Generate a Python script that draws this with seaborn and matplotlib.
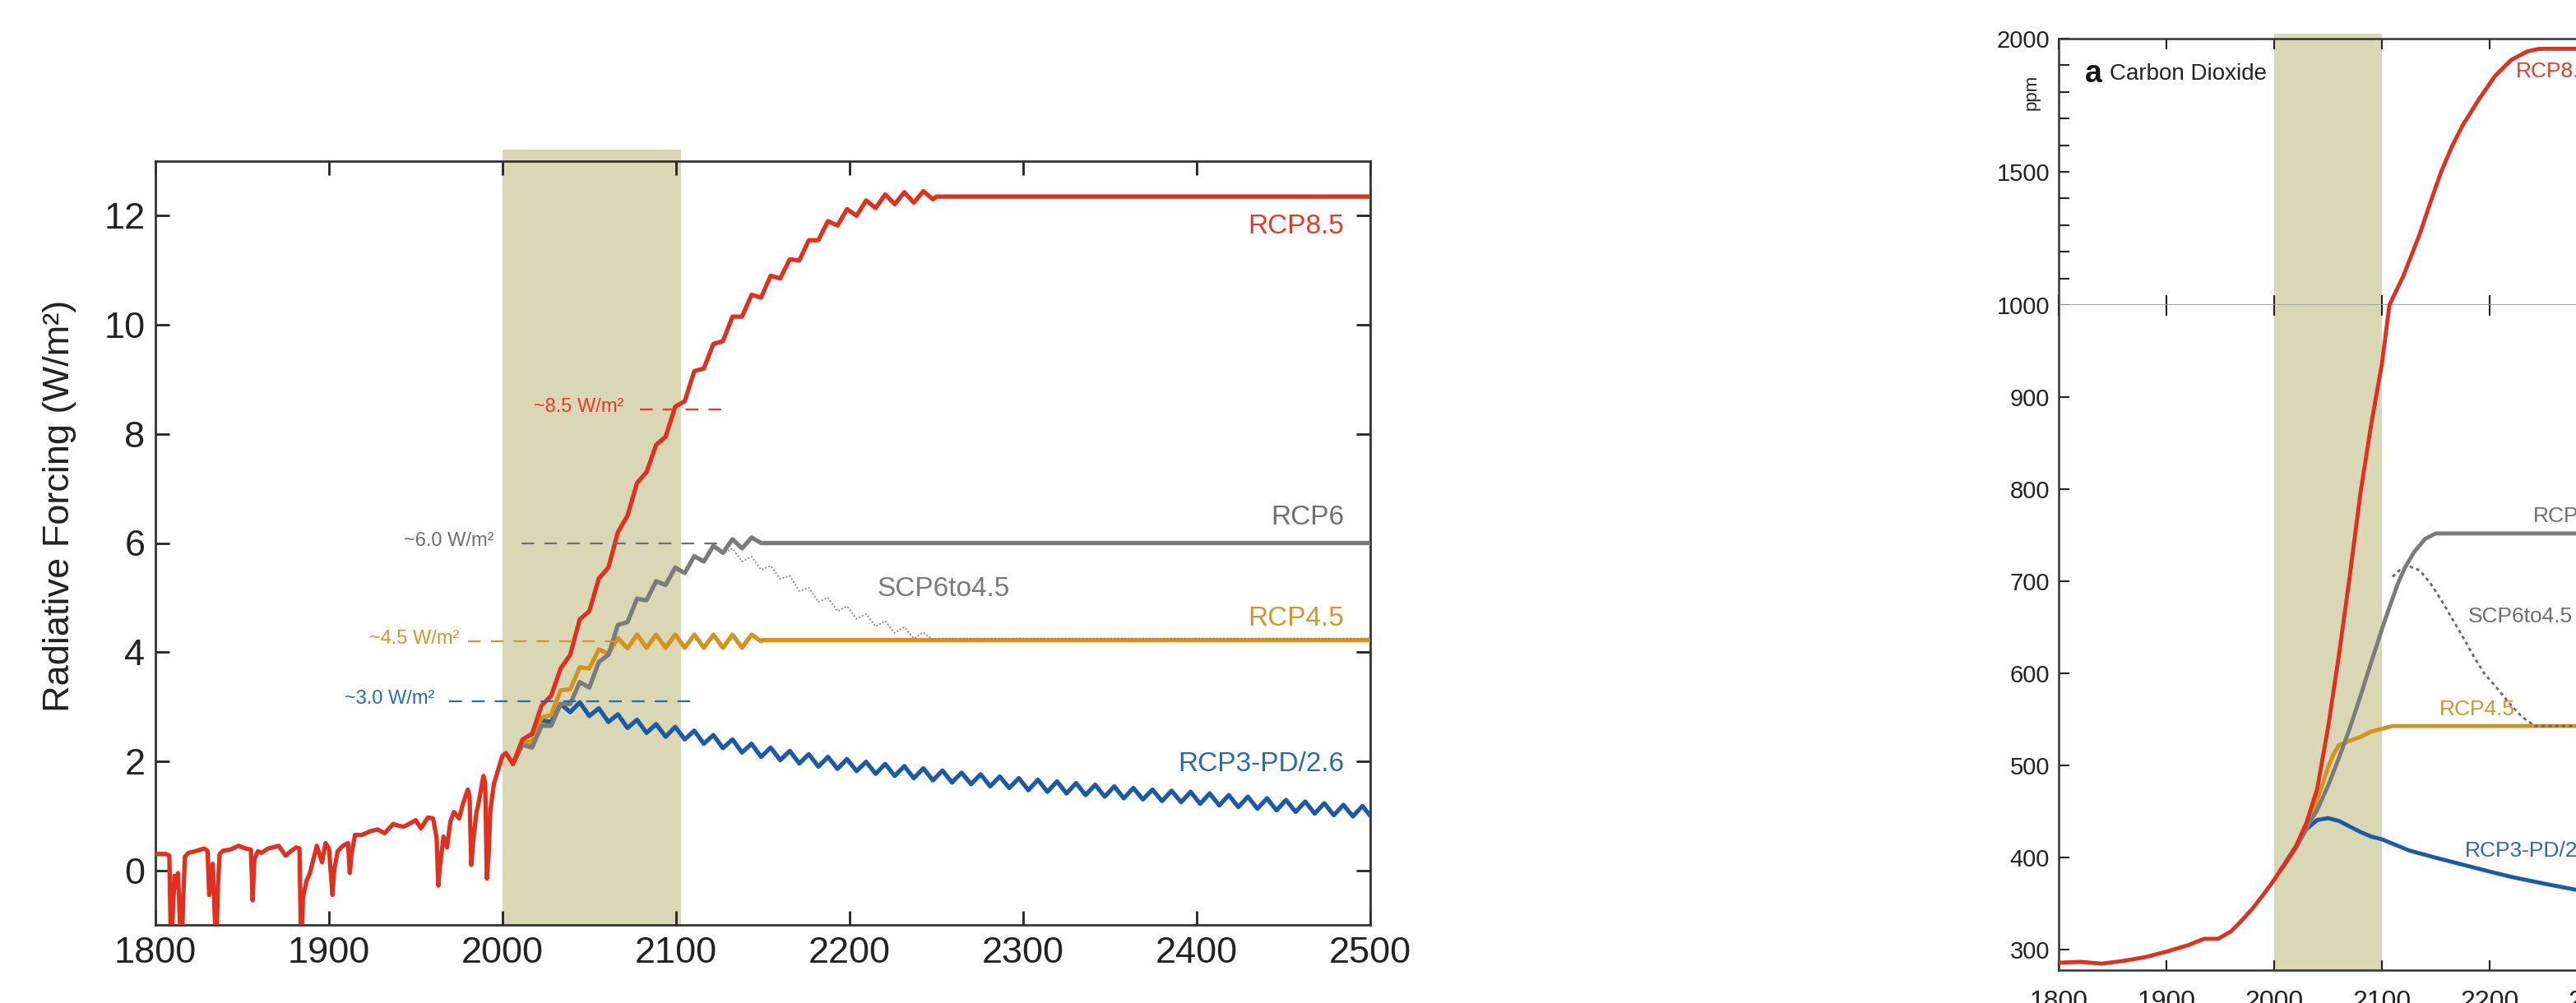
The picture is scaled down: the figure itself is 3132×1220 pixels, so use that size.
import numpy as np
import matplotlib
matplotlib.use("Agg")
import matplotlib.pyplot as plt
import seaborn as sns

sns.set_style("ticks")
plt.rcParams['font.family'] = ['Liberation Sans', 'DejaVu Sans']

# ---------------- left panel: radiative forcing (W/m2) ----------------
# historical forcing with the volcanic dips
hist_years = [1800, 1806, 1808, 1809, 1811, 1812, 1813, 1815, 1816, 1817,
              1819, 1823, 1828, 1830, 1831, 1832, 1833, 1835, 1836, 1837,
              1839, 1843, 1848, 1852, 1855, 1856, 1857, 1859, 1861, 1865,
              1871, 1875, 1878, 1881, 1883, 1884, 1885, 1887, 1889, 1891,
              1893, 1895, 1896, 1898, 1900, 1902, 1903, 1905, 1908, 1911,
              1912, 1913, 1915, 1919, 1924, 1928, 1932, 1937, 1940, 1943,
              1946, 1950, 1953, 1957, 1960, 1962, 1963, 1964, 1966, 1968,
              1970, 1972, 1975, 1977, 1980, 1981, 1982, 1983, 1985, 1986,
              1989, 1990, 1991, 1992, 1993, 1995, 1998, 2000, 2002, 2005]
hist_rf = [0.30, 0.30, 0.27, -1.5, -0.1, -0.3, -0.05, -1.6, -0.5, 0.25,
           0.32, 0.35, 0.40, 0.36, -0.45, 0.0, 0.12, -1.5, -0.3, 0.3,
           0.36, 0.38, 0.45, 0.40, 0.38, -0.55, 0.2, 0.35, 0.32, 0.40,
           0.45, 0.27, 0.35, 0.42, 0.40, -1.6, -0.5, -0.2, -0.05, 0.2,
           0.45, 0.25, 0.15, 0.5, 0.4, -0.45, 0.0, 0.35, 0.45, 0.5,
           -0.05, 0.3, 0.65, 0.65, 0.72, 0.75, 0.68, 0.85, 0.82, 0.8,
           0.85, 0.92, 0.77, 0.97, 0.95, 0.6, -0.28, 0.1, 0.62, 0.42,
           0.9, 1.07, 0.95, 1.2, 1.48, 1.35, 0.1, 0.5, 1.07, 1.2,
           1.73, 1.6, -0.15, 0.3, 1.1, 1.58, 1.9, 2.1, 2.15, 2.0]

# scenario values read at every half solar cycle (trough, peak, trough ...)
cycle_years = np.arange(2006, 2502, 5.5)

rcp85_rf = [1.95, 2.40, 2.50, 3.02, 3.20, 3.70, 3.95, 4.60, 4.75, 5.35,
            5.55, 6.20, 6.50, 7.10, 7.30, 7.80, 7.95, 8.50, 8.60, 9.15,
            9.20, 9.65, 9.70, 10.15, 10.15, 10.55, 10.50, 10.90, 10.85, 11.20,
            11.18, 11.55, 11.55, 11.90, 11.82, 12.12, 12.00, 12.28, 12.14, 12.39,
            12.21, 12.43, 12.24, 12.45, 12.30]
rcp85_flat = ([2250, 2500], [12.35, 12.35])

rcp6_rf = [1.95, 2.30, 2.25, 2.65, 2.65, 3.05, 3.05, 3.45, 3.35, 3.82,
           3.95, 4.50, 4.55, 4.98, 4.95, 5.30, 5.23, 5.55, 5.45, 5.76,
           5.66, 5.95, 5.82, 6.07, 5.90, 6.10, 6.00]
rcp6_flat = ([2150, 2500], [6.0, 6.0])

rcp45_rf = [1.95, 2.35, 2.35, 2.80, 2.85, 3.30, 3.32, 3.72, 3.70, 4.05,
            3.97, 4.26, 4.07, 4.32, 4.08, 4.32, 4.08, 4.32, 4.08, 4.32,
            4.08, 4.32, 4.08, 4.32, 4.08, 4.32, 4.20]
rcp45_flat = ([2150, 2500], [4.22, 4.22])

scp_rf = [5.93, 5.80, 5.90, 5.66, 5.75, 5.51, 5.58, 5.34, 5.40, 5.12,
          5.18, 4.92, 5.00, 4.75, 4.84, 4.61, 4.70, 4.47, 4.57, 4.35,
          4.46, 4.25, 4.36, 4.22]
scp_flat = ([2250, 2500], [4.25, 4.25])

rcp26_rf = [1.95, 2.35, 2.35, 2.75, 2.72, 3.05, 2.90, 3.08, 2.83, 2.97,
            2.72, 2.86, 2.61, 2.76, 2.52, 2.68, 2.45, 2.63, 2.40, 2.56,
            2.32, 2.48, 2.24, 2.40, 2.16, 2.32, 2.08, 2.25, 2.02, 2.19,
            1.96, 2.13, 1.90, 2.08, 1.86, 2.04, 1.82, 1.99, 1.77, 1.95,
            1.73, 1.91, 1.69, 1.87, 1.65, 1.83, 1.61, 1.79, 1.58, 1.76,
            1.54, 1.72, 1.51, 1.69, 1.47, 1.66, 1.44, 1.63, 1.41, 1.60,
            1.38, 1.57, 1.35, 1.54, 1.32, 1.51, 1.30, 1.48, 1.27, 1.46,
            1.25, 1.44, 1.22, 1.41, 1.19, 1.38, 1.16, 1.35, 1.13, 1.32,
            1.10, 1.29, 1.07, 1.26, 1.04, 1.23, 1.01, 1.20, 0.99, 1.18,
            0.96]

# dashed reference levels and their labels
ref_texts = ['~8.5 W/m²', '~6.0 W/m²', '~4.5 W/m²', '~3.0 W/m²']
ref_levels = [8.45, 6.0, 4.2, 3.1]
ref_start = [2079, 2011, 1980, 1969]
ref_end = [2127, 2126, 2067, 2112]
ref_text_end = [2070, 1995, 1975, 1961]

# ---------------- right panel: CO2 (ppm) ----------------
co2_hist_years = [1800, 1820, 1840, 1860, 1880, 1900, 1920, 1935, 1948, 1960, 1970, 1980, 1990, 2000, 2005]
co2_hist = [286, 287, 285, 288, 292, 298, 305, 312, 312, 320, 332, 345, 360, 376, 385]
co2_85_years = [2005, 2010, 2020, 2030, 2040, 2050, 2060, 2070, 2080, 2090, 2100, 2107, 2120, 2135,
                2145, 2155, 2165, 2175, 2190, 2205, 2220, 2235, 2245, 2250, 2500]
co2_85 = [385, 393, 412, 438, 475, 541, 619, 704, 795, 870, 936, 1000, 1110, 1265,
          1385, 1500, 1595, 1675, 1772, 1860, 1920, 1952, 1961, 1962, 1962]
co2_6_years = [2005, 2020, 2030, 2040, 2050, 2060, 2070, 2080, 2090, 2100, 2107, 2115, 2121, 2130, 2140, 2150, 2500]
co2_6 = [385, 410, 432, 452, 478, 508, 540, 575, 612, 648, 672, 698, 714, 732, 746, 752, 752]
co2_45_years = [2005, 2020, 2030, 2035, 2045, 2050, 2055, 2060, 2070, 2080, 2090, 2100, 2110, 2500]
co2_45 = [385, 410, 432, 447, 480, 498, 512, 522, 527, 531, 537, 540, 543, 543]
co2_scp_years = [2110, 2118, 2126, 2135, 2145, 2155, 2165, 2175, 2185, 2195, 2207, 2218, 2230, 2242, 2250, 2500]
co2_scp = [705, 714, 716, 712, 698, 680, 660, 640, 619, 600, 584, 568, 553, 543, 543, 543]
co2_26_years = [2005, 2020, 2030, 2040, 2050, 2060, 2070, 2080, 2090, 2100, 2125, 2150, 2200, 2221, 2250, 2281, 2300, 2400, 2500]
co2_26 = [385, 412, 431, 441, 443, 440, 434, 428, 423, 420, 408, 400, 385, 379, 372, 365, 361, 348, 338]

RED, GREY, GOLD, BLUE = '#e0301f', '#7b7b7b', '#d4921e', '#1c5aa8'
SHADE = '#d9d7b4'
line_kw = dict(estimator=None, sort=False, solid_joinstyle='round', solid_capstyle='round')

fig = plt.figure(figsize=(31.32, 12.2), dpi=100)

# ================= left panel =================
ax = fig.add_axes([189 / 3132, 1 - 1125 / 1220, 1477 / 3132, 929 / 1220])
ax.axvspan(2000, 2103, ymin=0, ymax=1.015, color=SHADE, lw=0, clip_on=False, zorder=0)

lw = 3.8
sns.lineplot(x=cycle_years, y=rcp26_rf, ax=ax, color=BLUE, lw=lw, zorder=3, **line_kw)
sns.lineplot(x=list(cycle_years[:27]) + rcp45_flat[0], y=rcp45_rf + rcp45_flat[1], ax=ax,
             color=GOLD, lw=lw, zorder=3, **line_kw)
sns.lineplot(x=list(cycle_years[21:45]) + scp_flat[0], y=scp_rf + scp_flat[1], ax=ax,
             color='#8a8a8a', lw=1.4, linestyle=(0, (1, 1.2)), estimator=None, sort=False, zorder=4)
sns.lineplot(x=list(cycle_years[:27]) + rcp6_flat[0], y=rcp6_rf + rcp6_flat[1], ax=ax,
             color=GREY, lw=lw, zorder=4, **line_kw)
sns.lineplot(x=hist_years + list(cycle_years[:45]) + rcp85_flat[0], y=hist_rf + rcp85_rf + rcp85_flat[1],
             ax=ax, color=RED, lw=lw, zorder=5, **line_kw)

ref_colors = ['#e23b2e', '#6f6f6f', '#d4962a', '#2b68b2']
for txt, lev, x0, x1, xt, c in zip(ref_texts, ref_levels, ref_start, ref_end, ref_text_end, ref_colors):
    ax.plot([x0, x1], [lev, lev], color=c, lw=1.6, linestyle=(0, (7, 5.5)), zorder=6)
    ax.text(xt, lev + 0.04, txt, color=c, fontsize=17, ha='right', va='center', zorder=6)

label_kw = dict(fontsize=24, va='center')
ax.text(2485, 11.8, 'RCP8.5', color='#e23b2e', ha='right', **label_kw)
ax.text(2485, 6.46, 'RCP6', color='#6f6f6f', ha='right', **label_kw)
ax.text(2216, 5.15, 'SCP6to4.5', color='#7a7a7a', ha='left', **label_kw)
ax.text(2485, 4.62, 'RCP4.5', color='#d4962a', ha='right', **label_kw)
ax.text(2485, 1.94, 'RCP3-PD/2.6', color='#2b68b2', ha='right', **label_kw)

ax.set_xlim(1800, 2500)
ax.set_ylim(-1, 13)
ax.set_xticks(range(1800, 2501, 100))
ax.set_yticks(range(0, 13, 2))
ax.tick_params(direction='in', length=12, width=2, top=True, right=True, labelsize=32.5, colors='#222222')
ax.tick_params(axis='x', pad=10)
ax.tick_params(axis='y', pad=9)
for s in ax.spines.values():
    s.set_linewidth(2)
    s.set_color('#333333')
ax.set_ylabel('Radiative Forcing (W/m²)', fontsize=32.5, color='#222222')
ax.yaxis.set_label_coords(-0.065, 0.549)

# ================= right panel (broken y axis) =================
px = 2503 / 3132
pw = 917 / 3132
ax_up = fig.add_axes([px, 1 - 371 / 1220, pw, 324 / 1220])
ax_lo = fig.add_axes([px, 1 - 1180 / 1220, pw, 809 / 1220])

ax_up.axvspan(2000, 2100, ymin=0, ymax=1.018, color=SHADE, lw=0, clip_on=False, zorder=0)
ax_lo.axvspan(2000, 2100, color=SHADE, lw=0, zorder=0)

for a in (ax_up, ax_lo):
    sns.lineplot(x=co2_26_years, y=co2_26, ax=a, color=BLUE, lw=3.5, zorder=3, **line_kw)
    sns.lineplot(x=co2_45_years, y=co2_45, ax=a, color=GOLD, lw=3.5, zorder=3, **line_kw)
    sns.lineplot(x=co2_scp_years, y=co2_scp, ax=a, color='#666666', lw=2, linestyle=(0, (1.5, 1.5)),
                 estimator=None, sort=False, zorder=4)
    sns.lineplot(x=co2_6_years, y=co2_6, ax=a, color=GREY, lw=3.5, zorder=4, **line_kw)
    sns.lineplot(x=co2_hist_years + co2_85_years, y=co2_hist + co2_85, ax=a, color=RED, lw=3.5,
                 zorder=5, **line_kw)
    a.set_xlim(1800, 2500)
    a.set_xticks(range(1800, 2501, 100))
    a.tick_params(direction='in', length=9, width=1.5, top=True, labelsize=21, colors='#222222', pad=8)
    for s in a.spines.values():
        s.set_linewidth(1.8)
        s.set_color('#333333')

ax_up.set_ylim(1000, 2000)
ax_up.set_yticks([1000, 1500, 2000])
ax_up.set_yticks(range(1100, 2000, 100), minor=True)
ax_up.tick_params(axis='y', which='minor', direction='in', length=9, width=1.5)
ax_up.tick_params(axis='x', labelbottom=False)
ax_up.spines['bottom'].set_color('#9a9a9a')
ax_up.spines['bottom'].set_linewidth(2)

ax_lo.set_ylim(278, 1000)
ax_lo.set_yticks(range(300, 1000, 100))
ax_lo.spines['top'].set_visible(False)
ax_lo.tick_params(axis='x', pad=17, labelsize=23)

ax_up.text(1824, 1867, 'a', fontsize=27, fontweight='bold', va='center', color='#111111')
ax_up.text(1847, 1867, 'Carbon Dioxide', fontsize=20, va='center', color='#222222')
fig.text(2470 / 3132, 1 - 112 / 1220, 'ppm', rotation=90, ha='center', va='center', fontsize=16, color='#222222')

rk = dict(fontsize=19, va='center', ha='left')
ax_up.text(2224, 1877, 'RCP8.5', color='#e23b2e', **rk)
ax_lo.text(2240, 771, 'RCP6', color='#6f6f6f', **rk)
ax_lo.text(2180, 662, 'SCP6to4.5', color='#6f6f6f', **rk)
ax_lo.text(2153, 561, 'RCP4.5', color='#d4962a', **rk)
ax_lo.text(2177, 407, 'RCP3-PD/2.6', color='#2b68b2', **rk)

fig.savefig('out.png', dpi=100)
